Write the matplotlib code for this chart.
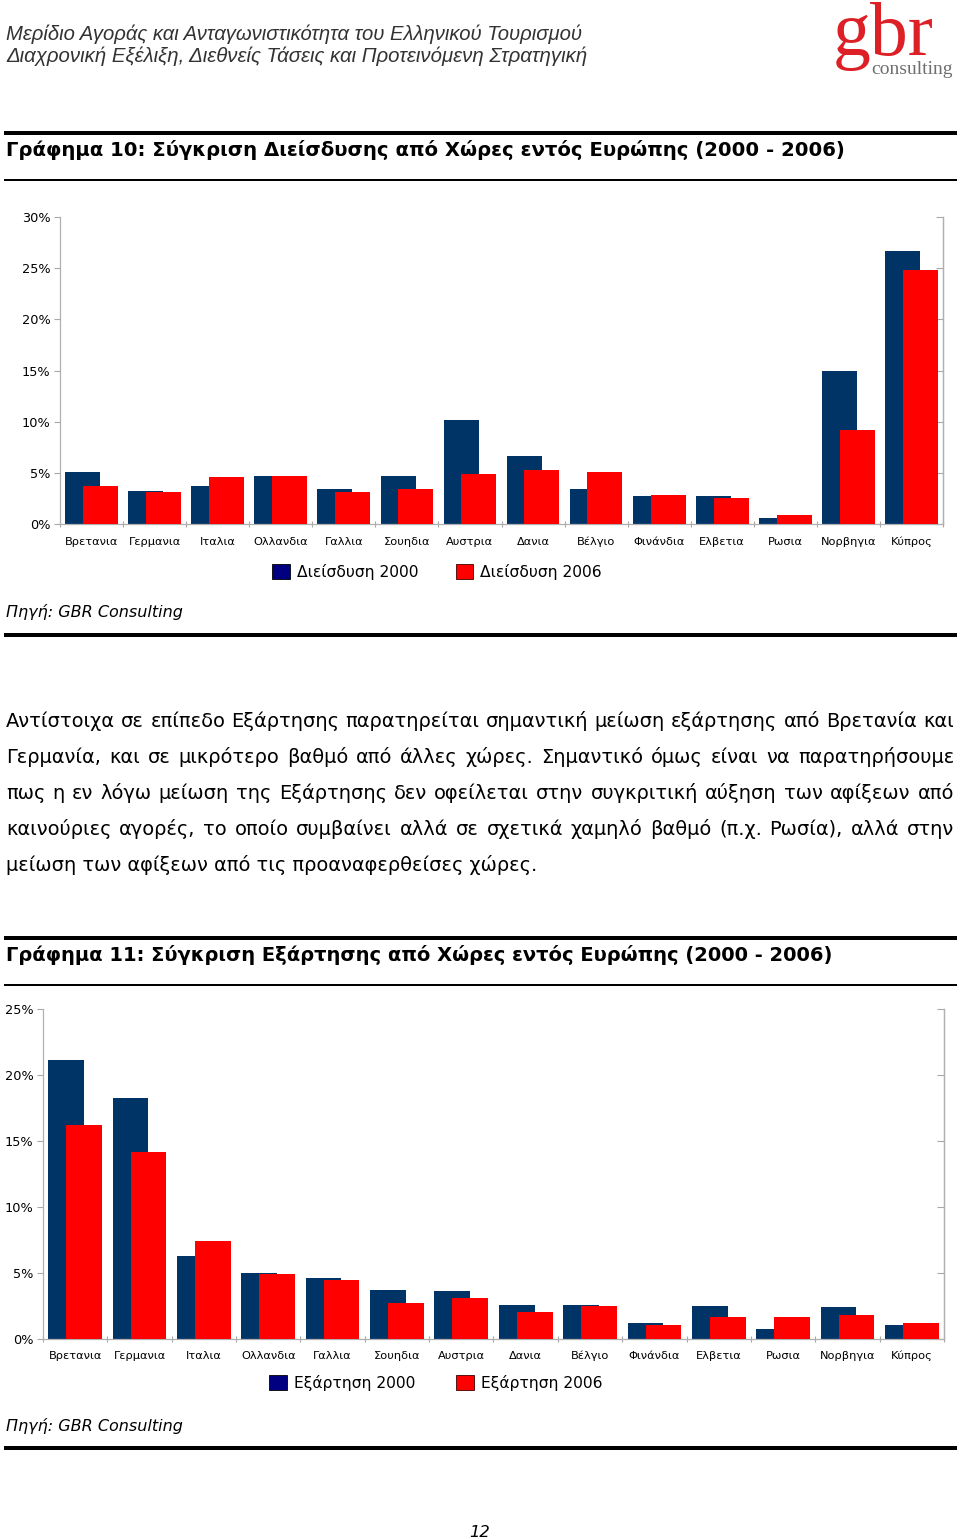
import matplotlib
matplotlib.use('Agg')
import matplotlib.pyplot as plt
from matplotlib.patches import Patch
from matplotlib.lines import Line2D
import numpy as np

W, H = 960, 1539
DPI = 100

# ---------------- data ----------------
countries = ["Βρετανια", "Γερμανια", "Ιταλια", "Ολλανδια", "Γαλλια", "Σουηδια",
             "Αυστρια", "Δανια", "Βέλγιο", "Φινάνδια", "Ελβετια", "Ρωσια",
             "Νορβηγια", "Κύπρος"]

penetration_2000 = [5.1, 3.2, 3.7, 4.7, 3.4, 4.7, 10.2, 6.6, 3.4, 2.7, 2.7, 0.55, 15.0, 26.7]
penetration_2006 = [3.7, 3.1, 4.6, 4.7, 3.1, 3.4, 4.9, 5.25, 5.05, 2.85, 2.5, 0.85, 9.15, 24.85]
pen_ticks = [0, 5, 10, 15, 20, 25, 30]

dependence_2000 = [21.15, 18.25, 6.3, 5.0, 4.6, 3.7, 3.65, 2.6, 2.55, 1.2, 2.5, 0.75, 2.4, 1.05]
dependence_2006 = [16.25, 14.15, 7.45, 4.9, 4.45, 2.7, 3.1, 2.05, 2.5, 1.05, 1.7, 1.65, 1.85, 1.25]
dep_ticks = [0, 5, 10, 15, 20, 25]

legend1 = ["Διείσδυση 2000", "Διείσδυση 2006"]
legend2 = ["Εξάρτηση 2000", "Εξάρτηση 2006"]

header1 = "Μερίδιο Αγοράς και Ανταγωνιστικότητα του Ελληνικού Τουρισμού"
header2 = "Διαχρονική Εξέλιξη, Διεθνείς Τάσεις και Προτεινόμενη Στρατηγική"
title1 = "Γράφημα 10: Σύγκριση Διείσδυσης από Χώρες εντός Ευρώπης (2000 - 2006)"
title2 = "Γράφημα 11: Σύγκριση Εξάρτησης από Χώρες εντός Ευρώπης (2000 - 2006)"
source = "Πηγή: GBR Consulting"
paragraph = [
    "Αντίστοιχα σε επίπεδο Εξάρτησης παρατηρείται σημαντική μείωση εξάρτησης από Βρετανία και",
    "Γερμανία, και σε μικρότερο βαθμό από άλλες χώρες. Σημαντικό όμως είναι να παρατηρήσουμε",
    "πως η εν λόγω μείωση της Εξάρτησης δεν οφείλεται στην συγκριτική αύξηση των αφίξεων από",
    "καινούριες αγορές, το οποίο συμβαίνει αλλά σε σχετικά χαμηλό βαθμό (π.χ. Ρωσία), αλλά στην",
    "μείωση των αφίξεων από τις προαναφερθείσες χώρες.",
]
page_no = "12"

C2000 = "#003366"
C2006 = "#ff0000"
L2000 = "#000080"

plt.rcParams['font.family'] = ['DejaVu Sans']

fig = plt.figure(figsize=(W / DPI, H / DPI), dpi=DPI)
renderer = fig.canvas.get_renderer()


def fx(x):
    return x / W


def fy(y):
    return 1 - y / H


def fit_text(x, y, s, width, ha='left', **kw):
    t = fig.text(fx(x), fy(y), s, ha=ha, va='baseline', fontsize=10, **kw)
    w = t.get_window_extent(renderer).width
    t.set_fontsize(10 * width / w)
    return t


def hline(y, lw, x0=4, x1=957):
    fig.add_artist(Line2D([fx(x0), fx(x1)], [fy(y), fy(y)], color='black',
                          linewidth=lw * 72 / DPI, solid_capstyle='butt'))


# ---------------- header ----------------
fit_text(6, 40, header1, 577, family='Liberation Sans', style='italic', color='#333333')
fit_text(6, 62, header2, 581, family='Liberation Sans', style='italic', color='#333333')
fit_text(833, 55, "gbr", 100, family='Liberation Serif', color='#dd1f26')
fit_text(871, 74, "consulting", 81, family='Liberation Serif', color='#6e6e6e')

hline(132.5, 4)
fit_text(6, 156, title1, 837, fontweight='bold', color='black')
hline(180, 2)


# ---------------- charts ----------------
def bar_chart(box, v1, v2, ticks, labels, ylabel_pad, xlabel_pad):
    left, right, top, bottom = box
    ax = fig.add_axes([fx(left), fy(bottom), fx(right - left), (bottom - top) / H])
    x = np.arange(len(countries))
    w = 0.555
    ax.bar(x - 0.14, v1, width=w, color=C2000, zorder=2)
    ax.bar(x + 0.14, v2, width=w, color=C2006, zorder=3)
    ax.set_xlim(-0.5, len(countries) - 0.5)
    ax.set_ylim(ticks[0], ticks[-1])
    ax.set_yticks(ticks)
    ax.set_yticklabels([f"{t}%" for t in ticks], fontsize=9.3)
    ax.set_xticks(x)
    ax.set_xticklabels(labels, fontsize=8.2, va='baseline')
    ax.set_xticks(np.arange(len(countries) + 1) - 0.5, minor=True)
    ax.tick_params(axis='x', which='major', length=0, pad=xlabel_pad)
    ax.tick_params(axis='x', which='minor', length=5, direction='inout', color='#a8a8a8', width=0.8)
    ax.tick_params(axis='y', which='major', length=4, direction='out', color='#a8a8a8',
                   width=0.8, pad=ylabel_pad)
    for s in ['left', 'right', 'bottom']:
        ax.spines[s].set_color('#b0b0b0')
        ax.spines[s].set_linewidth(0.9)
    ax.spines['top'].set_visible(False)
    sec = ax.secondary_yaxis('right')
    sec.set_yticks(ticks)
    sec.set_yticklabels([])
    sec.tick_params(length=5, direction='in', color='#a8a8a8', width=0.8)
    sec.spines['right'].set_color('#b0b0b0')
    sec.spines['right'].set_linewidth(0.9)
    handles = [Patch(facecolor=L2000, edgecolor='black', linewidth=0.6),
               Patch(facecolor=C2006, edgecolor='#400000', linewidth=0.6)]
    return ax, handles


ax1, h1 = bar_chart((60, 943, 217, 524), penetration_2000, penetration_2006, pen_ticks,
                    countries, 3, 15)
fig.legend(h1, legend1, loc='center', bbox_to_anchor=(fx(437), fy(572)), ncol=2,
           frameon=False, fontsize=11.2, handlelength=1.15, handleheight=1.15,
           handletextpad=0.45, columnspacing=2.4)
fit_text(6, 617, source, 176, family='DejaVu Sans', style='italic', color='black')
hline(635, 4)

# paragraph, justified
tmp = fig.text(0, 0, paragraph[-1], fontsize=10)
par_size = 10 * 528 / tmp.get_window_extent(renderer).width
tmp.remove()
for i, line in enumerate(paragraph):
    yb = 727 + 36 * i
    words = line.split(' ')
    if i == len(paragraph) - 1:
        fig.text(fx(6), fy(yb), line, fontsize=par_size, va='baseline', ha='left')
        continue
    arts = [fig.text(0, fy(yb), wd, fontsize=par_size, va='baseline', ha='left') for wd in words]
    widths = [a.get_window_extent(renderer).width for a in arts]
    gap = (954 - 6 - sum(widths)) / (len(words) - 1)
    xpos = 6
    for a, wd in zip(arts, widths):
        a.set_x(fx(xpos))
        xpos += wd + gap

hline(937.5, 4)
fit_text(6, 961, title2, 831, fontweight='bold', color='black')
hline(985, 2)

ax2, h2 = bar_chart((43, 944, 1009, 1339), dependence_2000, dependence_2006, dep_ticks,
                    countries, 3, 14.5)
fig.legend(h2, legend2, loc='center', bbox_to_anchor=(fx(436), fy(1383)), ncol=2,
           frameon=False, fontsize=11.2, handlelength=1.15, handleheight=1.15,
           handletextpad=0.45, columnspacing=2.6)
fit_text(6, 1431, source, 176, family='DejaVu Sans', style='italic', color='black')
hline(1448, 4)

fit_text(480, 1537, page_no, 21, ha='center', family='DejaVu Sans', style='italic', color='black')

fig.savefig('out.png', dpi=DPI)
